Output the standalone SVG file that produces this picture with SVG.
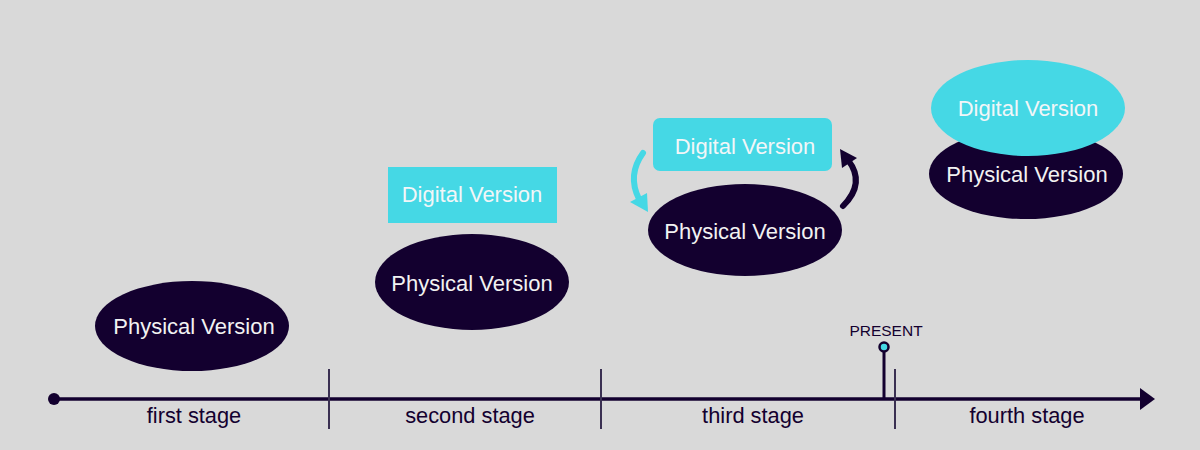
<svg xmlns="http://www.w3.org/2000/svg" width="1200" height="450" viewBox="0 0 1200 450">
<style>
.phys{fill:#13002f}
.dig{fill:#45d8e5}
.lbl{font-family:"Liberation Sans",Arial,sans-serif;font-size:22px;text-anchor:middle}
.lp{fill:#f2f2f2}
.ld{fill:#f2f6f8}
.stage{font-family:"Liberation Sans",Arial,sans-serif;font-size:21.8px;text-anchor:middle;fill:#13002f}
.div{stroke:#3a3052;stroke-width:2}
</style>
<rect width="1200" height="450" fill="#d9d9d9"/>
<g id="connectors">
<line x1="54" y1="399" x2="1142" y2="399" stroke="#13002f" stroke-width="3.5"/>
<polygon points="1140,388 1155,399 1140,410" fill="#13002f"/>
<circle cx="54" cy="399" r="6" fill="#13002f"/>
<line class="div" x1="329" y1="369" x2="329" y2="429"/>
<line class="div" x1="601" y1="369" x2="601" y2="429"/>
<line class="div" x1="895" y1="369" x2="895" y2="429"/>
<path d="M643,153 Q627,175 639,199" fill="none" stroke="#45d8e5" stroke-width="6" stroke-linecap="round"/>
<polygon points="630,202 647,193 648,212" fill="#45d8e5"/>
<path d="M843,206 Q866,183 848,160" fill="none" stroke="#13002f" stroke-width="6" stroke-linecap="round"/>
<polygon points="840,149 857,158 842,168" fill="#13002f"/>
</g>
<g id="present">
<line x1="884" y1="347" x2="884" y2="399" stroke="#13002f" stroke-width="3"/>
<circle cx="884" cy="347" r="4.5" fill="#45d8e5" stroke="#13002f" stroke-width="2.5"/>
<text x="886" y="336" font-family="Liberation Sans,Arial,sans-serif" font-size="15.5" text-anchor="middle" fill="#13002f">PRESENT</text>
</g>
<g id="stage1">
<ellipse class="phys" cx="192" cy="326" rx="97" ry="45"/>
<text class="lbl lp" x="194" y="334">Physical Version</text>
<text class="stage" x="194" y="423">first stage</text>
</g>
<g id="stage2">
<rect class="dig" x="388" y="167" width="169" height="56"/>
<text class="lbl ld" x="472" y="202">Digital Version</text>
<ellipse class="phys" cx="472" cy="282" rx="97" ry="48"/>
<text class="lbl lp" x="472" y="291">Physical Version</text>
<text class="stage" x="470" y="423">second stage</text>
</g>
<g id="stage3">
<rect class="dig" x="653" y="118" width="179" height="53" rx="7"/>
<text class="lbl ld" x="745" y="154">Digital Version</text>
<ellipse class="phys" cx="745" cy="230" rx="97" ry="46"/>
<text class="lbl lp" x="745" y="239">Physical Version</text>
<text class="stage" x="753" y="423">third stage</text>
</g>
<g id="stage4">
<ellipse class="phys" cx="1026" cy="174" rx="97" ry="45"/>
<text class="lbl lp" x="1027" y="182">Physical Version</text>
<ellipse class="dig" cx="1028" cy="108" rx="97" ry="48"/>
<text class="lbl ld" x="1028" y="116">Digital Version</text>
<text class="stage" x="1027" y="423">fourth stage</text>
</g>
</svg>
